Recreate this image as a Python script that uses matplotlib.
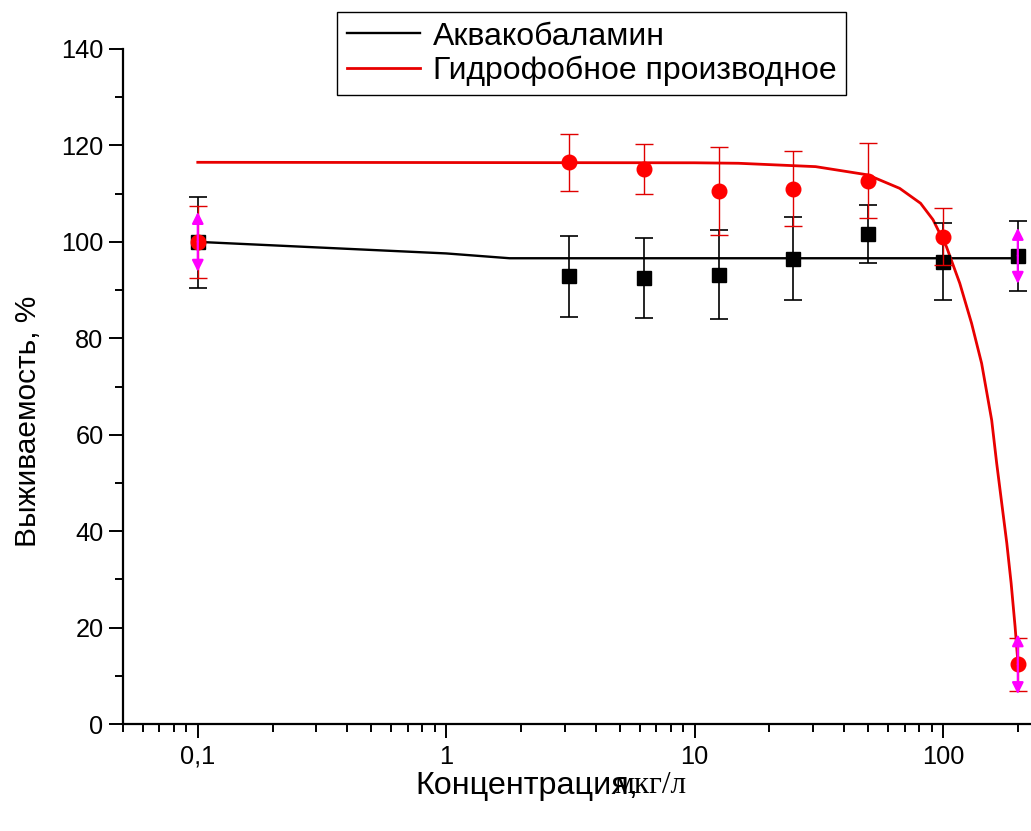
import matplotlib
matplotlib.use("Agg")
import matplotlib.pyplot as plt
from matplotlib.ticker import FixedLocator, LogLocator, MultipleLocator, NullFormatter

plt.rcParams['font.family'] = ['Liberation Sans', 'DejaVu Sans']

# concentrations, ug/L
conc = [0.1, 3.125, 6.25, 12.5, 25, 50, 100, 200]

# Aquacobalamin (black squares)
aqua_y = [99.9, 92.9, 92.5, 93.2, 96.5, 101.7, 95.9, 97.1]
aqua_err = [9.4, 8.4, 8.2, 9.3, 8.6, 6.0, 8.0, 7.3]

# hydrophobic derivative (red circles)
hydro_y = [100.0, 116.5, 115.1, 110.6, 111.0, 112.7, 101.1, 12.4]
hydro_err = [7.4, 5.9, 5.2, 9.1, 7.8, 7.8, 6.0, 5.5]

# fitted curves
aqua_fit_x = [0.1, 1.0, 1.8, 200]
aqua_fit_y = [100.0, 97.6, 96.6, 96.6]
hydro_fit_x = [0.1, 10, 15, 30.7, 49.7, 66.9, 81.2, 91.1, 103.2, 116.8, 130.3,
               143, 157, 164.4, 172.3, 180.6, 188, 195, 200]
hydro_fit_y = [116.5, 116.4, 116.3, 115.6, 113.9, 111.1, 108.0, 104.6, 99.0, 91.4, 83.1,
               74.8, 63.0, 54.1, 45.8, 37.5, 29.2, 20.2, 13.0]

# magenta arrow markers (x, y, half length)
arrow_pts = [(0.1, 100.0, 6.2), (200, 97.1, 5.8), (200, 12.4, 6.2)]

fig = plt.figure(figsize=(10.31, 8.31), dpi=100)
ax = fig.add_axes([123 / 1031, 107 / 831, 1 - 123 / 1031, (724 - 49) / 831])

ax.plot(aqua_fit_x, aqua_fit_y, color='black', lw=1.7, label='Аквакобаламин', zorder=2)
ax.plot(hydro_fit_x, hydro_fit_y, color='#e80000', lw=2.0, label='Гидрофобное производное', zorder=2)

ax.errorbar(conc, aqua_y, yerr=aqua_err, fmt='s', color='black', ms=10,
            ecolor='black', elinewidth=1.2, capsize=6.5, capthick=1.2, zorder=3)
ax.errorbar(conc, hydro_y, yerr=hydro_err, fmt='o', color='#ff0000', ms=10.5,
            ecolor='#e00000', elinewidth=1.0, capsize=6.5, capthick=1.0, zorder=4)

for x, y, d in arrow_pts:
    for sgn in (1, -1):
        ax.annotate('', xy=(x, y + sgn * d), xytext=(x, y),
                    arrowprops=dict(arrowstyle='-|>', color='#ff00ff', lw=1.6,
                                    mutation_scale=17, shrinkA=0, shrinkB=0),
                    zorder=5)

ax.set_xscale('log')
ax.set_xlim(0.05, 226)
ax.set_ylim(0, 140)

ax.xaxis.set_major_locator(FixedLocator([0.1, 1, 10, 100]))
ax.set_xticklabels(['0,1', '1', '10', '100'])
ax.xaxis.set_minor_locator(LogLocator(base=10, subs=[2, 3, 4, 5, 6, 7, 8, 9], numticks=20))
ax.xaxis.set_minor_formatter(NullFormatter())
ax.yaxis.set_major_locator(MultipleLocator(20))
ax.yaxis.set_minor_locator(MultipleLocator(10))

for s in ['top', 'right']:
    ax.spines[s].set_visible(False)
for s in ['left', 'bottom']:
    ax.spines[s].set_linewidth(1.6)

ax.tick_params(which='major', length=10, width=1.4, labelsize=18.3, direction='out')
ax.tick_params(which='minor', length=6, width=1.4, direction='out')
ax.tick_params(axis='x', which='major', pad=5)
ax.tick_params(axis='y', which='major', pad=4)

fig.text(415 / 1031, 1 - 794 / 831, 'Концентрация,', fontsize=23.3, va='baseline', ha='left')
fig.text(614 / 1031, 1 - 793 / 831, 'мкг/л', fontsize=22.5, va='baseline', ha='left',
         family=['Liberation Serif', 'DejaVu Serif'])
fig.text(28 / 1031, 1 - 421 / 831, 'Выживаемость, %', fontsize=21.5, rotation=90,
         va='center', ha='center')

leg = fig.legend(loc='upper left', bbox_to_anchor=(337 / 1031, 1 - 12 / 831),
                 fontsize=23, frameon=True, fancybox=False, edgecolor='black',
                 framealpha=1, handlelength=2.3, handletextpad=0.4, labelspacing=0.12,
                 borderpad=0.3, borderaxespad=0)
leg.get_frame().set_linewidth(1.0)

fig.savefig('out.png', dpi=100)
